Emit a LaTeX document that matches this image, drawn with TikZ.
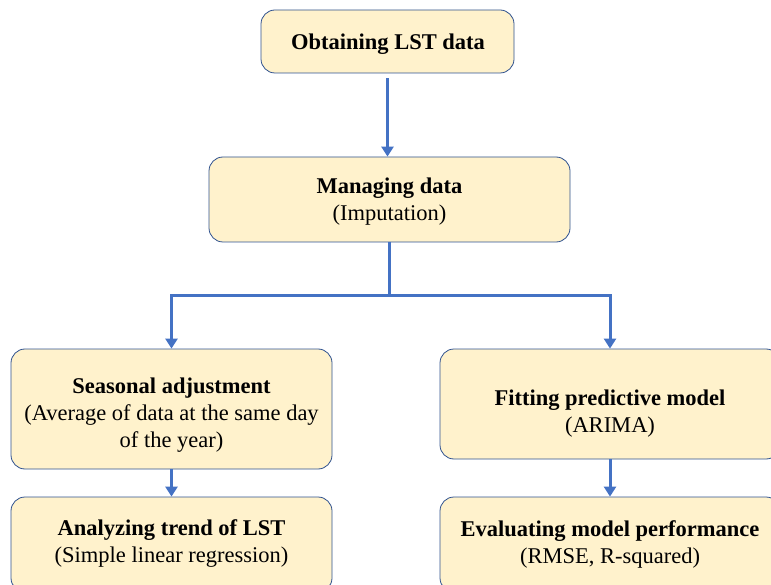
\documentclass[tikz,border=0pt]{standalone}
\usepackage{fontspec}
\setmainfont{Liberation Serif}
\usetikzlibrary{arrows.meta}
\definecolor{boxfill}{HTML}{FFF2CC}
\definecolor{boxline}{HTML}{2F528F}
\definecolor{arrblue}{HTML}{4472C4}
\begin{document}
\begin{tikzpicture}[x=1pt,y=-1pt,
  box/.style={draw=boxline, fill=boxfill, rounded corners=14pt, line width=0.8pt, inner sep=0pt},
  txt/.style={align=center, inner sep=0pt, font=\fontsize{22.5}{27}\selectfont},
  arr/.style={draw=arrblue, line width=3pt, -{Triangle[length=10pt,width=12pt]}},
  ln/.style={draw=arrblue, line width=3pt}]
\useasboundingbox (0,0) rectangle (771,585);
\clip (0,0) rectangle (771,585);
\node[box, minimum width=253pt, minimum height=63pt] (a) at (387.5,41.5) {};
\node[box, minimum width=361pt, minimum height=85pt] (b) at (389.5,199.5) {};
\node[box, minimum width=321pt, minimum height=120pt] (c) at (171.5,409) {};
\node[box, minimum width=340pt, minimum height=110pt] (d) at (610,404) {};
\node[box, minimum width=321pt, minimum height=95pt] (e) at (171.5,544.5) {};
\node[box, minimum width=340pt, minimum height=95pt] (f) at (610,544.5) {};
\node[txt] (at) at (388,44) {\textbf{Obtaining LST data}};
\node[txt] (bt) at (389.5,201.5) {\textbf{Managing data}\\(Imputation)};
\node[txt] (ct) at (171.5,415) {\textbf{Seasonal adjustment}\\(Average of data at the same day\\of the year)};
\node[txt] (dt) at (610,414) {\textbf{Fitting predictive model}\\(ARIMA)};
\node[txt] (et) at (171.5,543.5) {\textbf{Analyzing trend of LST}\\(Simple linear regression)};
\node[txt] (ft) at (610,544) {\textbf{Evaluating model performance}\\(RMSE, R-squared)};
\coordinate (j) at (389.5,296);
\draw[arr, shorten <=5pt] (a.south) -- (a.south |- b.north);
\draw[ln] (b.south) -- (j);
\draw[arr] (j) -| (c.north);
\draw[arr] (j) -| (d.north);
\draw[arr] (c.south) -- (e.north);
\draw[arr] (d.south) -- (f.north);
\end{tikzpicture}
\end{document}
